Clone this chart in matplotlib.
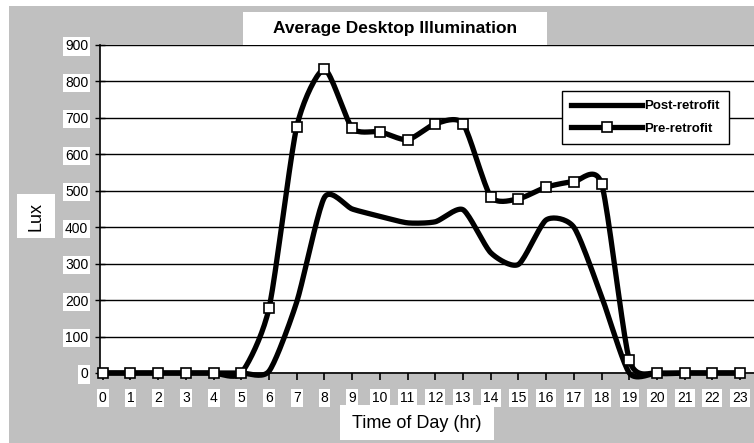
import matplotlib
matplotlib.use("Agg")
import matplotlib.pyplot as plt
from matplotlib.patches import Rectangle
import numpy as np

# Data
hours = list(range(24))
post_retrofit = [0, 0, 0, 0, 0, 0, 5, 195, 482, 450, 430, 412, 415, 448,
                 330, 298, 420, 400, 210, 0, 0, 0, 0, 0]
pre_retrofit = [0, 0, 0, 0, 0, 0, 178, 676, 833, 672, 662, 640, 684, 684,
                484, 478, 510, 525, 519, 36, 0, 0, 0, 0]
y_ticks = [0, 100, 200, 300, 400, 500, 600, 700, 800, 900]

W, H = 754, 443
GRAY = "#c0c0c0"


def smooth(x, y, tension=0.68, n=20):
    # smoothed line through the points (cardinal / Hermite spline)
    x = np.asarray(x, float)
    y = np.asarray(y, float)
    px = np.concatenate([[x[0]], x, [x[-1]]])
    py = np.concatenate([[y[0]], y, [y[-1]]])
    t = np.linspace(0, 1, n, endpoint=False)
    h00 = 2 * t ** 3 - 3 * t ** 2 + 1
    h10 = t ** 3 - 2 * t ** 2 + t
    h01 = -2 * t ** 3 + 3 * t ** 2
    h11 = t ** 3 - t ** 2
    xs, ys = [], []
    for i in range(1, len(px) - 2):
        for p, out in ((px, xs), (py, ys)):
            m1 = tension * (p[i + 1] - p[i - 1]) / 2
            m2 = tension * (p[i + 2] - p[i]) / 2
            out.extend(h00 * p[i] + h10 * m1 + h01 * p[i + 1] + h11 * m2)
    xs.append(x[-1])
    ys.append(y[-1])
    return np.array(xs), np.array(ys)


plt.rcParams["font.family"] = ["Liberation Sans", "DejaVu Sans"]

fig = plt.figure(figsize=(W / 100, H / 100), dpi=100, facecolor="white")
fig.patches.append(Rectangle((9 / W, 0), 1 - 9 / W, 1 - 6 / H,
                             transform=fig.transFigure, facecolor=GRAY,
                             edgecolor="none", zorder=-10))

ax = fig.add_axes([100 / W, (H - 373) / H, 654 / W, 328 / H])
ax.set_facecolor("white")

ax.set_xlim(-0.1, 23.5)
ax.set_ylim(0, 900)
ax.set_yticks(y_ticks)
ax.set_xticks(hours)
ax.yaxis.grid(True, color="black", linewidth=1)
ax.set_axisbelow(True)

for s in ["top", "right"]:
    ax.spines[s].set_visible(False)
for s in ["left", "bottom"]:
    ax.spines[s].set_color("black")
    ax.spines[s].set_linewidth(1.2)

ax.tick_params(axis="y", direction="inout", length=7, width=1,
               labelsize=10, pad=5)
ax.tick_params(axis="x", direction="out", length=5, width=1.2,
               labelsize=10, pad=8)
for lbl in ax.get_xticklabels() + ax.get_yticklabels():
    lbl.set_bbox(dict(facecolor="white", edgecolor="none", pad=1.5))

sx, sy = smooth(hours, post_retrofit)
ax.plot(sx, sy, color="black", linewidth=3.8, clip_on=False,
        solid_capstyle="butt", zorder=3)
px, py = smooth(hours, pre_retrofit)
ax.plot(px, py, color="black", linewidth=3.8, clip_on=False, zorder=4)
ax.plot(hours, pre_retrofit, linestyle="none", marker="s", markersize=7.5,
        markerfacecolor="white", markeredgecolor="black",
        markeredgewidth=1.2, clip_on=False, zorder=5)

# legend
h1, = ax.plot([], [], color="black", linewidth=3.8)
h2, = ax.plot([], [], color="black", linewidth=3.8, marker="s",
              markersize=7.5, markerfacecolor="white",
              markeredgecolor="black", markeredgewidth=1.2)
leg = ax.legend([h1, h2], ["Post-retrofit", "Pre-retrofit"],
                loc="upper left",
                bbox_to_anchor=((562 - 100) / 654, (373 - 91) / 328),
                fontsize=9.5, frameon=True, fancybox=False,
                handlelength=5.4, handletextpad=0.15, borderpad=0.7,
                labelspacing=0.75, borderaxespad=0)
leg.get_frame().set_edgecolor("black")
leg.get_frame().set_linewidth(1)
leg.get_frame().set_facecolor("white")
leg.get_frame().set_alpha(1)
for txt in leg.get_texts():
    txt.set_fontweight("bold")

# title box
fig.patches.append(Rectangle((243 / W, (H - 45) / H), 304 / W, 33 / H,
                             transform=fig.transFigure, facecolor="white",
                             edgecolor="none", zorder=-5))
fig.text(395 / W, 1 - 29 / H, "Average Desktop Illumination",
         ha="center", va="center", fontsize=12.5, fontweight="bold")

# axis label boxes
fig.patches.append(Rectangle((340 / W, (H - 440) / H), 154 / W, 35 / H,
                             transform=fig.transFigure, facecolor="white",
                             edgecolor="none", zorder=-5))
fig.text(417 / W, 1 - 423 / H, "Time of Day (hr)", ha="center",
         va="center", fontsize=13)
fig.patches.append(Rectangle((17 / W, (H - 238) / H), 38 / W, 44 / H,
                             transform=fig.transFigure, facecolor="white",
                             edgecolor="none", zorder=-5))
fig.text(36 / W, 1 - 216 / H, "Lux", ha="center", va="center",
         rotation=90, fontsize=13)

fig.savefig("out.png", dpi=100, facecolor=fig.get_facecolor())
